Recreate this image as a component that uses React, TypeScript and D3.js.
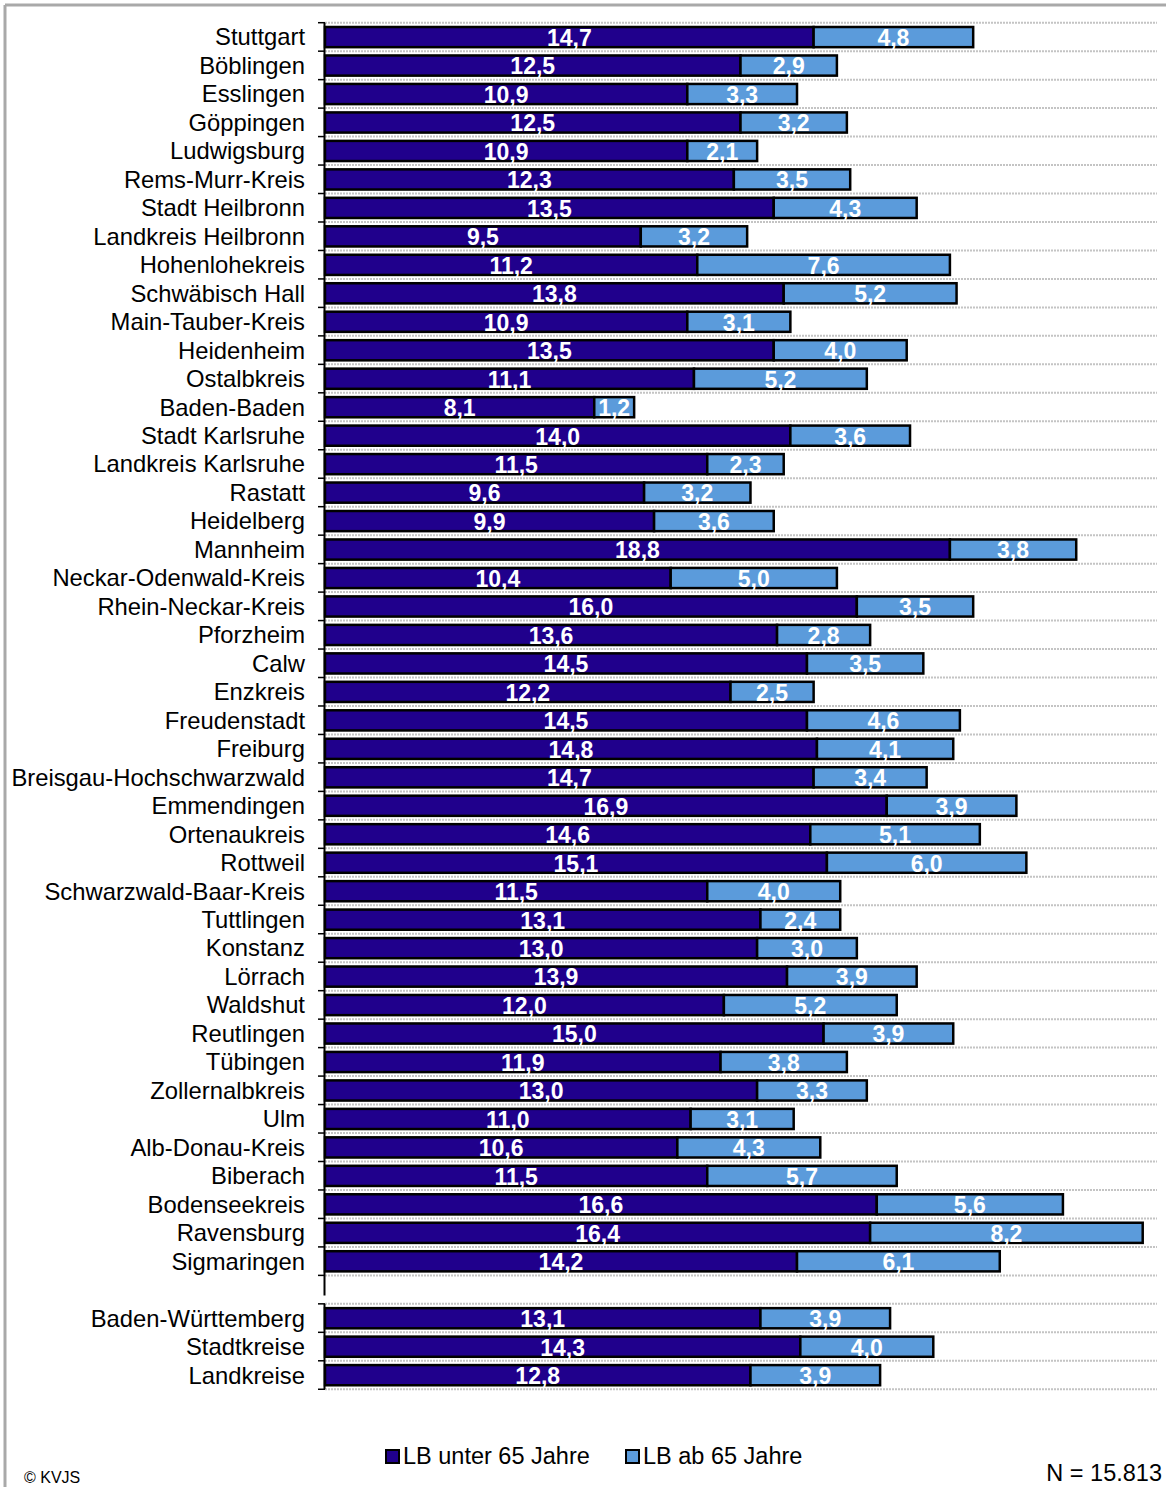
import React from "react";
import * as d3 from "d3";

// districts (top block)
const districts = [
  "Stuttgart", "Böblingen", "Esslingen", "Göppingen", "Ludwigsburg", "Rems-Murr-Kreis",
  "Stadt Heilbronn", "Landkreis Heilbronn", "Hohenlohekreis", "Schwäbisch Hall",
  "Main-Tauber-Kreis", "Heidenheim", "Ostalbkreis", "Baden-Baden", "Stadt Karlsruhe",
  "Landkreis Karlsruhe", "Rastatt", "Heidelberg", "Mannheim", "Neckar-Odenwald-Kreis",
  "Rhein-Neckar-Kreis", "Pforzheim", "Calw", "Enzkreis", "Freudenstadt", "Freiburg",
  "Breisgau-Hochschwarzwald", "Emmendingen", "Ortenaukreis", "Rottweil",
  "Schwarzwald-Baar-Kreis", "Tuttlingen", "Konstanz", "Lörrach", "Waldshut", "Reutlingen",
  "Tübingen", "Zollernalbkreis", "Ulm", "Alb-Donau-Kreis", "Biberach", "Bodenseekreis",
  "Ravensburg", "Sigmaringen",
];
const under65 = [
  14.7, 12.5, 10.9, 12.5, 10.9, 12.3, 13.5, 9.5, 11.2, 13.8, 10.9, 13.5, 11.1, 8.1, 14.0,
  11.5, 9.6, 9.9, 18.8, 10.4, 16.0, 13.6, 14.5, 12.2, 14.5, 14.8, 14.7, 16.9, 14.6, 15.1,
  11.5, 13.1, 13.0, 13.9, 12.0, 15.0, 11.9, 13.0, 11.0, 10.6, 11.5, 16.6, 16.4, 14.2,
];
const from65 = [
  4.8, 2.9, 3.3, 3.2, 2.1, 3.5, 4.3, 3.2, 7.6, 5.2, 3.1, 4.0, 5.2, 1.2, 3.6,
  2.3, 3.2, 3.6, 3.8, 5.0, 3.5, 2.8, 3.5, 2.5, 4.6, 4.1, 3.4, 3.9, 5.1, 6.0,
  4.0, 2.4, 3.0, 3.9, 5.2, 3.9, 3.8, 3.3, 3.1, 4.3, 5.7, 5.6, 8.2, 6.1,
];

// summary block
const totals = ["Baden-Württemberg", "Stadtkreise", "Landkreise"];
const totalsUnder65 = [13.1, 14.3, 12.8];
const totalsFrom65 = [3.9, 4.0, 3.9];

const seriesNames = ["LB unter 65 Jahre", "LB ab 65 Jahre"];
const colors = ["#20008C", "#5B9BDB"];

const W = 1166;
const H = 1487;
const FONT = "'Liberation Sans', Arial, sans-serif";
const AXIS_X = 325;
const STEP = 28.47;
const TOP = 22.7;

const x = d3.scaleLinear().domain([0, 25]).range([AXIS_X, 1156]);
const fmt = (v: number) => d3.format(".1f")(v).replace(".", ",");

function Block({ names, a, b, y, axisEnd }) {
  const [y0, y1] = y.range();
  return (
    <g>
      {/* grid lines and ticks at band boundaries */}
      {d3.range(names.length + 1).map((i) => {
        const yy = y0 + i * y.step();
        return (
          <g key={"g" + i}>
            <line x1={AXIS_X} x2={1157} y1={yy} y2={yy} stroke="#c4c4c4" strokeWidth={2} strokeDasharray="2,1" />
            <line x1={AXIS_X - 7} x2={AXIS_X} y1={yy} y2={yy} stroke="#000" strokeWidth={1.5} />
          </g>
        );
      })}
      {names.map((n, i) => {
        const top = y(n);
        const cy = top + y.bandwidth() / 2;
        const bt = top + 4.3;
        const bh = y.bandwidth() - 8.3;
        return (
          <g key={n}>
            <text x={305} y={cy + 8.5} textAnchor="end" fontSize={23.8} fontFamily={FONT} fill="#000">
              {n}
            </text>
            <rect x={x(0)} y={bt} width={x(a[i]) - x(0)} height={bh} fill={colors[0]} stroke="#000" strokeWidth={2.5} />
            <rect x={x(a[i])} y={bt} width={x(a[i] + b[i]) - x(a[i])} height={bh} fill={colors[1]} stroke="#000" strokeWidth={2.5} />
            <text x={(x(0) + x(a[i])) / 2} y={cy + 9} textAnchor="middle" fontSize={23} fontWeight="bold" fontFamily={FONT} fill="#fff">
              {fmt(a[i])}
            </text>
            <text x={(x(a[i]) + x(a[i] + b[i])) / 2} y={cy + 9} textAnchor="middle" fontSize={23} fontWeight="bold" fontFamily={FONT} fill="#fff">
              {fmt(b[i])}
            </text>
          </g>
        );
      })}
      <line x1={AXIS_X - 0.5} x2={AXIS_X - 0.5} y1={y0} y2={axisEnd ?? y1} stroke="#000" strokeWidth={2} />
    </g>
  );
}

export default function App() {
  const yTop = d3.scaleBand().domain(districts).range([TOP, TOP + districts.length * STEP]).paddingInner(0).paddingOuter(0);
  const start2 = TOP + (districts.length + 1) * STEP;
  const yBottom = d3.scaleBand().domain(totals).range([start2, start2 + totals.length * STEP]);
  const legendX = [385, 625];

  return (
    <svg width={W} height={H} style={{ position: "absolute", left: 0, top: 0, background: "#fff" }}>
      <line x1={5} x2={W} y1={5} y2={5} stroke="#a9a9a9" strokeWidth={3} />
      <line x1={5} x2={5} y1={5} y2={H} stroke="#a9a9a9" strokeWidth={3} />

      <Block names={districts} a={under65} b={from65} y={yTop} axisEnd={TOP + districts.length * STEP + 20} />
      <Block names={totals} a={totalsUnder65} b={totalsFrom65} y={yBottom} />

      {seriesNames.map((s, i) => (
        <g key={s}>
          <rect x={legendX[i] + 1} y={1450} width={13} height={13} fill={colors[i]} stroke="#000" strokeWidth={2} />
          <text x={legendX[i] + 18} y={1464} fontSize={23.5} fontFamily={FONT} fill="#000">
            {s}
          </text>
        </g>
      ))}
      <text x={1162} y={1481} textAnchor="end" fontSize={23.5} fontFamily={FONT} fill="#000">
        N = 15.813
      </text>
      <text x={24} y={1483} fontSize={16} fontFamily={FONT} fill="#000">
        © KVJS
      </text>
    </svg>
  );
}
